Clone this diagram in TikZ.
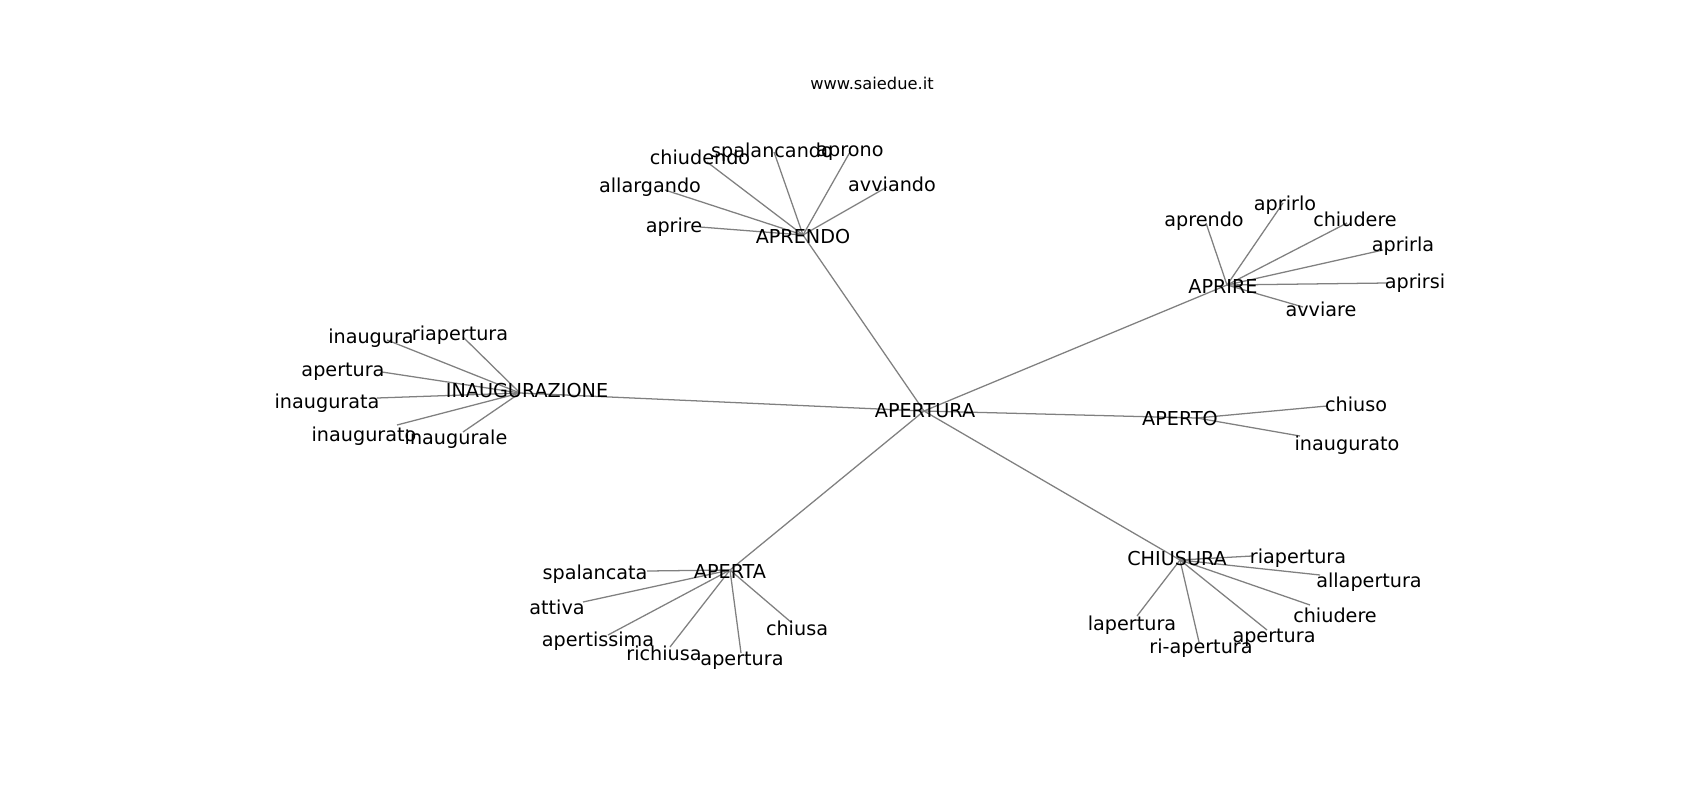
\documentclass[tikz,border=0pt]{standalone}
\usepackage{fontspec}
\setmainfont{DejaVu Sans}
\begin{document}
\begin{tikzpicture}[x=0.75pt,y=-0.75pt,
  edge/.style={draw=gray, line width=0.95pt},
  lbl/.style={inner sep=0pt, text height=0.73em, text depth=0pt, yshift=-2.4pt, font=\fontsize{14.4}{17}\selectfont},
  ttl/.style={inner sep=0pt, text height=0.73em, text depth=0pt, yshift=-1.6pt, font=\fontsize{12.2}{14}\selectfont}]
\useasboundingbox[fill=white] (0,0) rectangle (1700,800);
% graph node positions
\coordinate (APERTURA) at (924,411);
\coordinate (APRENDO) at (803,235);
\coordinate (APRIRE) at (1227,285);
\coordinate (INAUG) at (520,393);
\coordinate (APERTO) at (1197,418);
\coordinate (APERTA) at (730,570);
\coordinate (CHIUSURA) at (1180,560);
% APRENDO children
\coordinate (a1) at (707,162);
\coordinate (a2) at (774,152);
\coordinate (a3) at (850,152);
\coordinate (a4) at (887,187);
\coordinate (a5) at (665,190);
\coordinate (a6) at (700,227);
% APRIRE children
\coordinate (b1) at (1206,223);
\coordinate (b2) at (1283,203);
\coordinate (b3) at (1347,223);
\coordinate (b4) at (1383,250);
\coordinate (b5) at (1387,283);
\coordinate (b6) at (1303,307);
% INAUGURAZIONE children
\coordinate (c1) at (387,340);
\coordinate (c2) at (463,337);
\coordinate (c3) at (382,372);
\coordinate (c4) at (377,398);
\coordinate (c5) at (397,425);
\coordinate (c6) at (463,432);
% APERTO children
\coordinate (d1) at (1327,406);
\coordinate (d2) at (1300,436);
% APERTA children
\coordinate (e1) at (647,571);
\coordinate (e2) at (583,602);
\coordinate (e3) at (608,635);
\coordinate (e4) at (670,647);
\coordinate (e5) at (741,653);
\coordinate (e6) at (792,623);
% CHIUSURA children
\coordinate (f1) at (1252,556);
\coordinate (f2) at (1320,575);
\coordinate (f3) at (1310,605);
\coordinate (f4) at (1267,630);
\coordinate (f5) at (1199,642);
\coordinate (f6) at (1137,616);
% edges
\foreach \h in {APRENDO,APRIRE,INAUG,APERTO,APERTA,CHIUSURA}
  \draw[edge] (APERTURA) -- (\h);
\foreach \c in {a1,a2,a3,a4,a5,a6} \draw[edge] (APRENDO) -- (\c);
\foreach \c in {b1,b2,b3,b4,b5,b6} \draw[edge] (APRIRE) -- (\c);
\foreach \c in {c1,c2,c3,c4,c5,c6} \draw[edge] (INAUG) -- (\c);
\foreach \c in {d1,d2} \draw[edge] (APERTO) -- (\c);
\foreach \c in {e1,e2,e3,e4,e5,e6} \draw[edge] (APERTA) -- (\c);
\foreach \c in {f1,f2,f3,f4,f5,f6} \draw[edge] (CHIUSURA) -- (\c);
% labels
\node[ttl] (title) at (872,82) {www.saiedue.it};
\node[lbl] (lAPERTURA) at (925,409) {APERTURA};
\node[lbl] (lAPRENDO) at (803,235) {APRENDO};
\node[lbl] (lAPRIRE) at (1223,285) {APRIRE};
\node[lbl] (lINAUG) at (527,389) {INAUGURAZIONE};
\node[lbl] (lAPERTO) at (1180,417) {APERTO};
\node[lbl] (lAPERTA) at (730,570) {APERTA};
\node[lbl] (lCHIUSURA) at (1177,557) {CHIUSURA};
\node[lbl] (la1) at (700,156) {chiudendo};
\node[lbl] (la2) at (772,149) {spalancando};
\node[lbl] (la3) at (850,148) {aprono};
\node[lbl] (la4) at (892,183) {avviando};
\node[lbl] (la5) at (650,184) {allargando};
\node[lbl] (la6) at (674,224) {aprire};
\node[lbl] (lb1) at (1204,218) {aprendo};
\node[lbl] (lb2) at (1285,202) {aprirlo};
\node[lbl] (lb3) at (1355,218) {chiudere};
\node[lbl] (lb4) at (1403,243) {aprirla};
\node[lbl] (lb5) at (1415,280) {aprirsi};
\node[lbl] (lb6) at (1321,308) {avviare};
\node[lbl] (lc1) at (371,335) {inaugura};
\node[lbl] (lc2) at (460,332) {riapertura};
\node[lbl] (lc3) at (343,368) {apertura};
\node[lbl] (lc4) at (327,400) {inaugurata};
\node[lbl] (lc5) at (364,433) {inaugurato};
\node[lbl] (lc6) at (456,436) {inaugurale};
\node[lbl] (ld1) at (1356,403) {chiuso};
\node[lbl] (ld2) at (1347,442) {inaugurato};
\node[lbl] (le1) at (595,571) {spalancata};
\node[lbl] (le2) at (557,606) {attiva};
\node[lbl] (le3) at (598,638) {apertissima};
\node[lbl] (le4) at (664,652) {richiusa};
\node[lbl] (le5) at (742,657) {apertura};
\node[lbl] (le6) at (797,627) {chiusa};
\node[lbl] (lf1) at (1298,555) {riapertura};
\node[lbl] (lf2) at (1369,579) {allapertura};
\node[lbl] (lf3) at (1335,614) {chiudere};
\node[lbl] (lf4) at (1274,634) {apertura};
\node[lbl] (lf5) at (1201,645) {ri-apertura};
\node[lbl] (lf6) at (1132,622) {lapertura};
\end{tikzpicture}
\end{document}
